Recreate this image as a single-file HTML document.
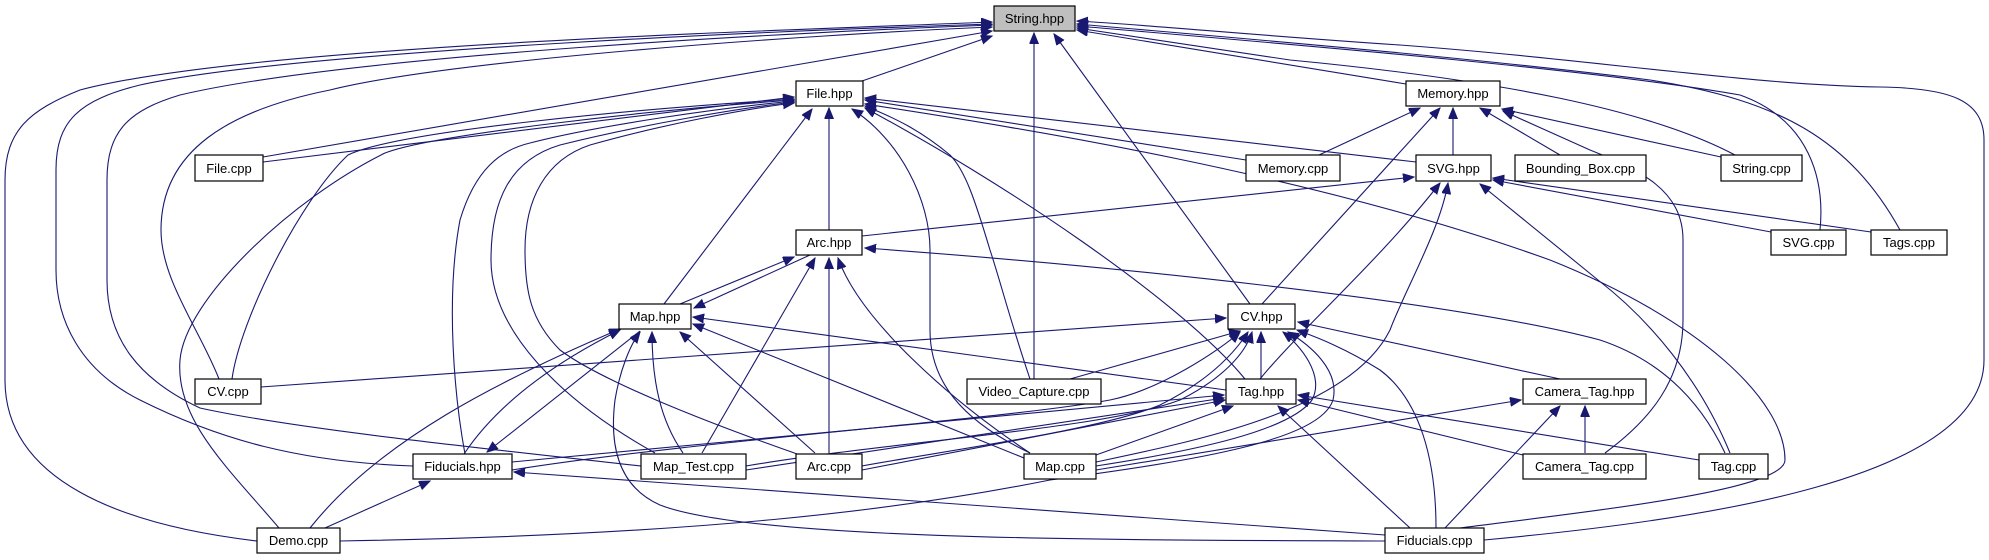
<!DOCTYPE html>
<html><head><meta charset="utf-8"><style>
html,body{margin:0;padding:0;background:#fff;}
svg{display:block;}
text{font-family:"Liberation Sans",Arial,sans-serif;font-size:13px;fill:#000;}
</style></head><body>
<svg width="1989" height="560" viewBox="0 0 1989 560" xmlns="http://www.w3.org/2000/svg">
<defs>
<marker id="a" markerUnits="userSpaceOnUse" markerWidth="12" markerHeight="10" refX="11" refY="4.5" orient="auto">
<path d="M0,0 L11,4.5 L0,9 z" fill="#191970" stroke="#191970"/>
</marker>
</defs>
<g fill="none" stroke="#191970" stroke-width="1.1" marker-end="url(#a)">
<!-- to String.hpp -->
<path d="M862,81 L992,36"/>
<path d="M263,157 L992,31"/>
<path d="M219,379 C200,330 161,280 161,230 C161,150 230,110 330,90 C450,60 800,35 992,27"/>
<path d="M413,466 C300,462 220,440 140,400 C80,370 56,320 56,270 L56,170 C56,120 80,100 140,85 C300,50 800,30 992,24"/>
<path d="M641,466 C500,450 300,430 200,408 C140,380 107,340 107,280 L107,180 C107,130 130,110 180,95 C350,55 800,32 992,25"/>
<path d="M257,541 C120,525 5,480 5,380 L5,180 C5,130 30,110 80,90 C250,45 800,30 992,22"/>
<path d="M1034,379 L1034,33"/>
<path d="M1250,304 L1054,34"/>
<path d="M1406,84 L1077,30"/>
<path d="M1735,155 C1650,110 1500,80 1290,60 L1077,28"/>
<path d="M1820,230 C1825,180 1810,120 1740,95 C1600,70 1300,45 1077,26"/>
<path d="M1900,230 C1850,140 1780,100 1650,80 C1450,55 1200,35 1077,24"/>
<path d="M1484,540 C1700,520 1984,480 1984,360 L1984,140 C1984,100 1950,88 1880,87 C1750,85 1600,60 1400,45 C1250,35 1150,25 1077,21"/>
<!-- to File.hpp -->
<path d="M263,162 L794,97"/>
<path d="M232,379 C240,320 300,200 348,155 C400,130 650,108 794,99"/>
<path d="M279,528 C230,470 175,420 180,360 C185,300 290,200 385,153 C430,135 650,110 794,100"/>
<path d="M465,454 C455,400 445,300 460,220 C475,170 500,150 530,143 C600,125 720,108 794,101"/>
<path d="M655,453 C560,400 491,330 491,260 C491,200 510,160 560,145 C640,125 740,108 794,102"/>
<path d="M800,455 C700,420 600,380 560,350 C530,320 525,290 525,250 C525,200 545,160 590,145 C660,125 750,108 794,103"/>
<path d="M664,304 L812,109"/>
<path d="M829,230 L829,108"/>
<path d="M1030,453 C960,420 930,380 930,330 L930,250 C930,200 900,140 852,109"/>
<path d="M1030,379 C1010,320 1000,280 990,250 C975,200 965,170 950,155 C920,130 895,118 865,106"/>
<path d="M1245,379 C1180,300 1000,180 865,108"/>
<path d="M1246,160 L865,100"/>
<path d="M1416,162 L865,98"/>
<path d="M1460,528 C1600,510 1785,490 1785,460 C1785,400 1700,320 1550,260 C1300,170 1000,125 865,104"/>
<!-- to Memory.hpp -->
<path d="M1319,155 L1420,108"/>
<path d="M1262,304 L1440,108"/>
<path d="M1453,155 L1453,108"/>
<path d="M1560,155 L1480,108"/>
<path d="M1721,157 L1502,109"/>
<path d="M1605,453 C1650,420 1683,380 1683,320 L1683,240 C1683,190 1640,170 1590,150 L1503,111"/>
<!-- to SVG.hpp -->
<path d="M862,236 L1414,177"/>
<path d="M1260,379 C1300,330 1380,260 1440,183"/>
<path d="M1096,462 C1200,440 1350,410 1390,330 C1405,290 1440,230 1448,183"/>
<path d="M1730,453 C1700,380 1650,320 1598,280 L1480,184"/>
<path d="M1771,232 L1493,180"/>
<path d="M1871,232 L1493,178"/>
<!-- to Arc.hpp -->
<path d="M680,304 L794,257"/>
<path d="M810,255 L694,308"/>
<path d="M702,453 L815,258"/>
<path d="M829,453 L829,258"/>
<path d="M1030,453 C950,400 860,320 838,258"/>
<path d="M1725,453 C1700,400 1660,360 1600,340 C1450,300 1100,265 865,248"/>
<!-- to Map.hpp -->
<path d="M464,454 C500,400 560,360 620,330"/>
<path d="M310,528 C380,440 500,380 620,329"/>
<path d="M683,453 C660,420 652,380 652,332"/>
<path d="M815,453 L680,332"/>
<path d="M1024,458 L693,324"/>
<path d="M1226,390 L693,317"/>
<path d="M1385,541 C1100,540 750,540 660,505 C615,485 610,440 615,400 C620,370 630,345 640,332"/>
<!-- to Fiducials.hpp -->
<path d="M640,331 L487,452"/>
<path d="M325,528 L430,481"/>
<path d="M1385,535 L514,472"/>
<!-- to CV.hpp -->
<path d="M261,387 L1226,318"/>
<path d="M1070,379 L1240,331"/>
<path d="M1261,379 L1261,332"/>
<path d="M512,470 C700,440 1000,420 1110,400 C1160,390 1220,350 1240,332"/>
<path d="M862,466 C950,450 1100,430 1160,405 C1200,385 1230,360 1248,332"/>
<path d="M1096,466 C1200,450 1290,430 1312,400 C1325,375 1300,345 1283,332"/>
<path d="M746,466 C900,440 1100,430 1180,400 C1220,380 1245,355 1252,332"/>
<path d="M1560,379 L1298,322"/>
<path d="M1436,528 C1436,460 1420,400 1380,370 C1340,345 1310,335 1297,330"/>
<path d="M340,541 C700,535 900,510 1050,480 C1200,460 1320,440 1333,400 C1340,370 1310,345 1288,332"/>
<!-- to Tag.hpp -->
<path d="M512,462 L1224,395"/>
<path d="M746,470 L1224,398"/>
<path d="M862,470 L1225,400"/>
<path d="M1096,455 L1233,406"/>
<path d="M1523,455 L1298,400"/>
<path d="M1699,460 L1298,395"/>
<path d="M1410,528 L1278,406"/>
<!-- to Camera_Tag.hpp -->
<path d="M1096,470 L1521,400"/>
<path d="M1585,453 L1585,406"/>
<path d="M1445,528 L1560,406"/>
</g>
<g stroke="#000" stroke-width="1.2">
<rect x="994" y="6" width="81" height="25" fill="#bfbfbf"/>
<rect x="796" y="81" width="67" height="25" fill="#fff"/>
<rect x="1406" y="81" width="94" height="25" fill="#fff"/>
<rect x="195" y="155" width="68" height="26" fill="#fff"/>
<rect x="1246" y="155" width="94" height="26" fill="#fff"/>
<rect x="1416" y="155" width="75" height="26" fill="#fff"/>
<rect x="1515" y="155" width="131" height="26" fill="#fff"/>
<rect x="1721" y="155" width="81" height="26" fill="#fff"/>
<rect x="796" y="230" width="66" height="25" fill="#fff"/>
<rect x="1771" y="230" width="75" height="25" fill="#fff"/>
<rect x="1871" y="230" width="76" height="25" fill="#fff"/>
<rect x="619" y="304" width="72" height="25" fill="#fff"/>
<rect x="1228" y="304" width="67" height="25" fill="#fff"/>
<rect x="195" y="379" width="66" height="25" fill="#fff"/>
<rect x="967" y="379" width="134" height="25" fill="#fff"/>
<rect x="1226" y="379" width="70" height="25" fill="#fff"/>
<rect x="1523" y="379" width="123" height="25" fill="#fff"/>
<rect x="413" y="454" width="99" height="25" fill="#fff"/>
<rect x="641" y="454" width="105" height="25" fill="#fff"/>
<rect x="796" y="454" width="66" height="25" fill="#fff"/>
<rect x="1024" y="454" width="72" height="25" fill="#fff"/>
<rect x="1523" y="454" width="123" height="25" fill="#fff"/>
<rect x="1699" y="454" width="69" height="25" fill="#fff"/>
<rect x="257" y="528" width="83" height="25" fill="#fff"/>
<rect x="1385" y="528" width="99" height="25" fill="#fff"/>
</g>
<g text-anchor="middle">
<text x="1034.5" y="23">String.hpp</text>
<text x="829.5" y="98">File.hpp</text>
<text x="1453" y="98">Memory.hpp</text>
<text x="229" y="173">File.cpp</text>
<text x="1293" y="173">Memory.cpp</text>
<text x="1453.5" y="173">SVG.hpp</text>
<text x="1580.5" y="173">Bounding_Box.cpp</text>
<text x="1761.5" y="173">String.cpp</text>
<text x="829" y="247">Arc.hpp</text>
<text x="1808.5" y="247">SVG.cpp</text>
<text x="1909" y="247">Tags.cpp</text>
<text x="655" y="321">Map.hpp</text>
<text x="1261.5" y="321">CV.hpp</text>
<text x="228" y="396">CV.cpp</text>
<text x="1034" y="396">Video_Capture.cpp</text>
<text x="1261" y="396">Tag.hpp</text>
<text x="1584.5" y="396">Camera_Tag.hpp</text>
<text x="462.5" y="471">Fiducials.hpp</text>
<text x="693.5" y="471">Map_Test.cpp</text>
<text x="829" y="471">Arc.cpp</text>
<text x="1060" y="471">Map.cpp</text>
<text x="1584.5" y="471">Camera_Tag.cpp</text>
<text x="1733.5" y="471">Tag.cpp</text>
<text x="298.5" y="545">Demo.cpp</text>
<text x="1434.5" y="545">Fiducials.cpp</text>
</g>
</svg>
</body></html>
